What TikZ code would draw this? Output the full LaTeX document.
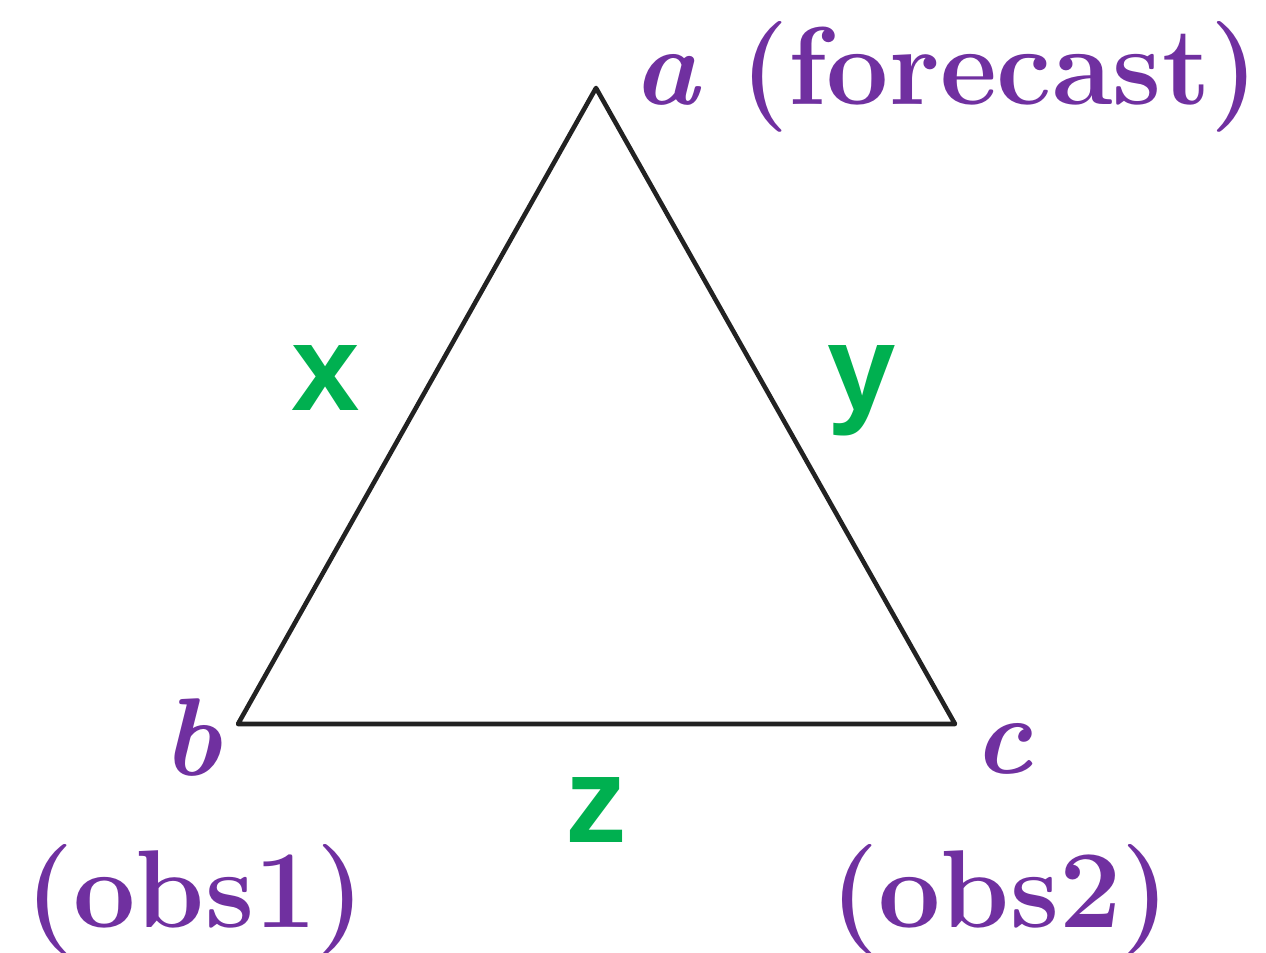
\documentclass[tikz,border=0pt]{standalone}
\usepackage{fontspec}
\usepackage{tikz}
\usepackage{xcolor}
\newfontfamily\edgefont{Liberation Sans}
\definecolor{vertexPurple}{RGB}{112,48,160}
\definecolor{edgeGreen}{RGB}{0,176,80}
\definecolor{lineDark}{RGB}{34,34,34}

\begin{document}
\begin{tikzpicture}[
  vlabel/.style={text=vertexPurple,inner sep=0pt,font=\fontsize{63}{75}\selectfont\bfseries},
  elabel/.style={text=edgeGreen,inner sep=0pt,font=\edgefont\fontsize{70}{84}\selectfont\bfseries},
  side/.style={draw=lineDark,line width=2.6pt,line join=round}]
\useasboundingbox (0,0) rectangle (25.32,19.04);
% vertices
\coordinate (a) at (11.92,17.28);
\coordinate (b) at (4.76,4.56);
\coordinate (c) at (19.10,4.56);
\draw[side] (a) -- (b) -- (c) -- cycle;
% vertex labels
\node[vlabel,anchor=base west] (alab) at (12.66,16.94) {\itshape a\upshape\ (forecast)};
\node[vlabel,anchor=base] (blab) at (3.84,3.54) {\itshape b};
\node[vlabel,anchor=base] (bobs) at (3.90,0.50) {(obs1)};
\node[vlabel,anchor=base] (clab) at (20.06,3.58) {\itshape c};
\node[vlabel,anchor=base] (cobs) at (20.00,0.50) {(obs2)};
% edge labels
\node[elabel,anchor=base] (xlab) at (6.52,10.82) {x};
\node[elabel,anchor=base] (ylab) at (17.24,10.82) {y};
\node[elabel,anchor=base] (zlab) at (11.92,2.20) {z};
\end{tikzpicture}
\end{document}
